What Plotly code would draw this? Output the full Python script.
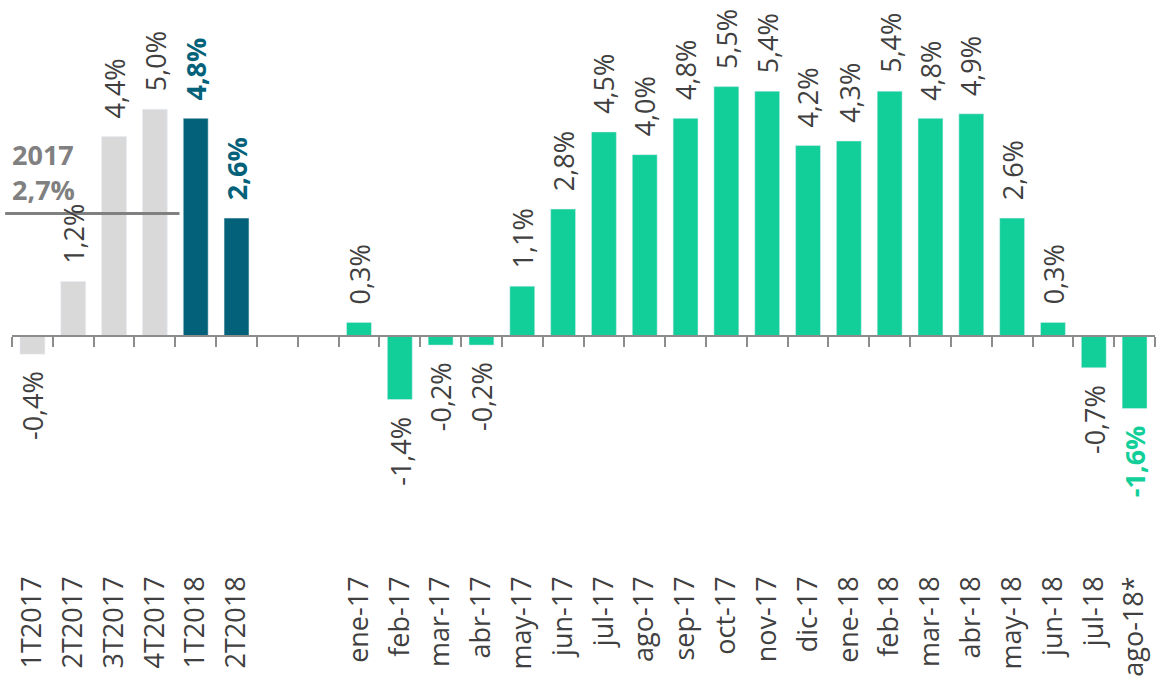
import plotly.graph_objects as go

# ---- data ----
quarters_2017 = ["1T2017", "2T2017", "3T2017", "4T2017"]
quarters_2017_vals = [-0.4, 1.2, 4.4, 5.0]
quarters_2018 = ["1T2018", "2T2018"]
quarters_2018_vals = [4.8, 2.6]
gap_labels = ["", ""]
months = ["ene-17", "feb-17", "mar-17", "abr-17", "may-17", "jun-17", "jul-17", "ago-17",
          "sep-17", "oct-17", "nov-17", "dic-17", "ene-18", "feb-18", "mar-18", "abr-18",
          "may-18", "jun-18", "jul-18", "ago-18*"]
months_vals = [0.3, -1.4, -0.2, -0.2, 1.1, 2.8, 4.5, 4.0, 4.8, 5.5, 5.4, 4.2, 4.3, 5.4,
               4.8, 4.9, 2.6, 0.3, -0.7, -1.6]
avg_2017_label = "2017"
avg_2017 = 2.7

# ---- styling ----
GRAY_BAR = "#d9d9d9"
TEAL = "#03627a"
GREEN = "#12cf9a"
TXT = "#404040"
AXIS = "#8c8c8c"
AVG = "#808080"
FONT = "Open Sans"
FS = 27

categories = quarters_2017 + quarters_2018 + gap_labels + months
n = len(categories)
pos = list(range(n))
p_q17 = pos[0:4]
p_q18 = pos[4:6]
p_m = pos[8:]

y_min, y_max = -5.16, 7.41
zero_frac = (0 - y_min) / (y_max - y_min)


def fmt(v):
    return f"{v:.1f}".replace(".", ",") + "%"


fig = go.Figure()
bw = 0.61
fig.add_trace(go.Bar(x=p_q17, y=quarters_2017_vals, marker_color=GRAY_BAR, width=bw,
                     hoverinfo="skip", showlegend=False))
fig.add_trace(go.Bar(x=p_q18, y=quarters_2018_vals, marker_color=TEAL, width=bw,
                     hoverinfo="skip", showlegend=False))
fig.add_trace(go.Bar(x=p_m, y=months_vals, marker_color=GREEN, width=bw,
                     hoverinfo="skip", showlegend=False))
fig.add_trace(go.Scatter(x=[None], y=[None], xaxis="x2", yaxis="y", showlegend=False,
                         hoverinfo="skip"))

annotations = []
groups = [
    (p_q17, quarters_2017_vals, [TXT] * 4, [False] * 4),
    (p_q18, quarters_2018_vals, [TEAL] * 2, [True] * 2),
    (p_m, months_vals, [TXT] * (len(months) - 1) + [GREEN], [False] * (len(months) - 1) + [True]),
]
for ps, vals, cols, bolds in groups:
    for p, v, c, b in zip(ps, vals, cols, bolds):
        txt = fmt(v)
        if b:
            txt = f"<b>{txt}</b>"
        annotations.append(dict(
            x=p, y=v, xref="x", yref="y", text=txt, showarrow=False, textangle=-90,
            yanchor="bottom" if v >= 0 else "top", xanchor="center",
            yshift=16 if v >= 0 else -15,
            font=dict(family=FONT, size=FS, color=c),
        ))

annotations.append(dict(
    x=0, y=avg_2017, xref="paper", yref="y", xanchor="left", yanchor="bottom",
    yshift=4, xshift=-2, showarrow=False, align="left",
    text=f"<b>{avg_2017_label}<br>{fmt(avg_2017)}</b>",
    font=dict(family=FONT, size=FS, color=AVG),
))

fig.add_shape(type="line", xref="paper", yref="y", x0=-0.006, x1=0.1465,
              y0=avg_2017, y1=avg_2017, line=dict(color=AVG, width=3), layer="above")

fig.update_layout(
    width=1162, height=690,
    margin=dict(l=12, r=7, t=0, b=120),
    plot_bgcolor="white", paper_bgcolor="white",
    bargap=0.4,
    annotations=annotations,
    font=dict(family=FONT, size=FS, color=TXT),
    xaxis=dict(range=[-0.5, n - 0.5], tickmode="array", tickvals=pos, ticktext=categories,
               tickangle=-90, ticks="", showline=False, showgrid=False, zeroline=False,
               automargin=False,
               tickfont=dict(family=FONT, size=FS, color=TXT), ticklabelstandoff=0),
    xaxis2=dict(overlaying="x", anchor="free", position=zero_frac, side="bottom",
                range=[-0.5, n - 0.5], tickmode="array",
                tickvals=[p - 0.5 for p in pos] + [n - 0.5],
                ticks="outside", ticklen=10, tickwidth=2, tickcolor=AXIS,
                showline=True, linewidth=2, linecolor=AXIS, showticklabels=False,
                showgrid=False, zeroline=False, automargin=False),
    yaxis=dict(range=[y_min, y_max], visible=False, showgrid=False, zeroline=False),
)

fig.write_html("out.html", config={"displayModeBar": False},
               post_script="document.body.style.margin='0px';")
